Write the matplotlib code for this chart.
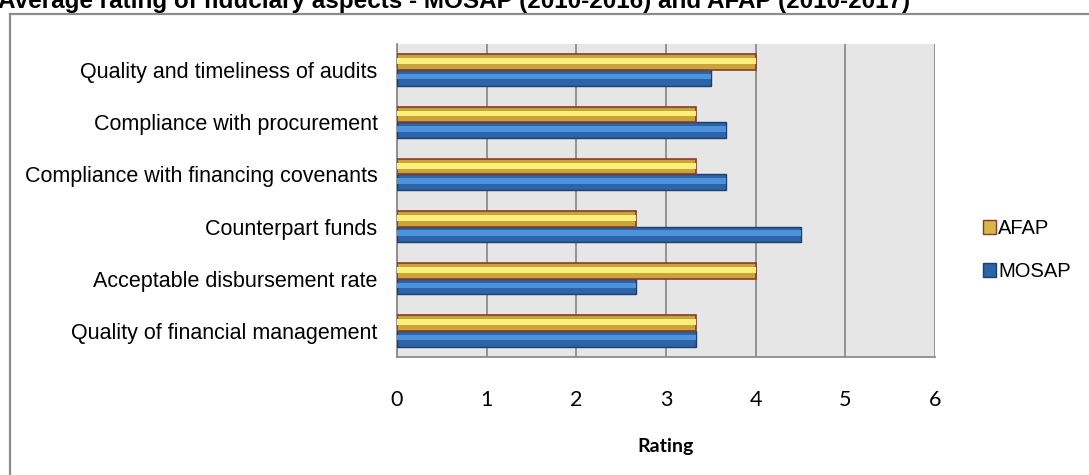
import numpy as np
import matplotlib
matplotlib.use("Agg")
import matplotlib.pyplot as plt
from matplotlib.patches import Patch
from matplotlib.lines import Line2D

# datos del grafico
categorias = ["Quality of financial management",
              "Acceptable disbursement rate",
              "Counterpart funds",
              "Compliance with financing covenants",
              "Compliance with procurement",
              "Quality and timeliness of audits"]
afap = [3.33, 4.0, 2.67, 3.33, 3.33, 4.0]
mosap = [3.33, 2.67, 4.5, 3.67, 3.67, 3.5]
ticks_x = [0, 1, 2, 3, 4, 5, 6]

fig = plt.figure(figsize=(10.89, 4.75), dpi=100)
fig.patch.set_facecolor("white")

# marco exterior (cortado a la derecha y abajo)
fig.add_artist(Line2D([10/1089, 10/1089], [0, 1 - 14/475], color="#8c8c8c", lw=1.6))
fig.add_artist(Line2D([10/1089, 1], [1 - 14/475, 1 - 14/475], color="#8c8c8c", lw=1.6))

# titulo cortado arriba, como en la imagen original
fig.text(-0.002, 1 - 8/475, "Average rating of fiduciary aspects - MOSAP (2010-2016) and AFAP (2010-2017)",
         family="Liberation Sans", weight="bold", fontsize=17.5, ha="left", va="baseline")

ax = fig.add_axes([397/1089, 1 - 357/475, (935-397)/1089, (357-44)/475])
ax.set_facecolor("#e6e6e6")

y = np.arange(len(categorias))
h = 0.3

# MOSAP (abajo) y AFAP (arriba), con efecto de bisel
ax.barh(y - h/2, mosap, height=h, color="#2d64a8", edgecolor="#1d3f6b", lw=1.0, zorder=3)
ax.barh(y - h/2 + h*0.08, mosap, height=h*0.35, color="#4d93dc", lw=0, zorder=4)
ax.barh(y + h/2, afap, height=h, color="#c9a43a", edgecolor="#8a3a2a", lw=1.2, zorder=3)
ax.barh(y + h/2 + h*0.06, afap, height=h*0.38, color="#fbef7c", lw=0, zorder=4)

ax.set_xlim(0, 6)
ax.set_ylim(-0.5, len(categorias) - 0.5)
ax.set_xticks(ticks_x)
ax.set_xticklabels([str(t) for t in ticks_x], family="Lato", fontsize=15.5)
ax.set_yticks(y)
ax.set_yticklabels(categorias, family="Liberation Sans", fontsize=15.5)
ax.tick_params(axis="x", length=0, pad=24)
ax.tick_params(axis="y", length=0, pad=14)
ax.xaxis.grid(True, color="#8c8c8c", lw=1.3, zorder=1)
ax.set_axisbelow(True)
for s in ["top", "right"]:
    ax.spines[s].set_visible(False)
ax.spines["left"].set_color("#8c8c8c")
ax.spines["bottom"].set_color("#8c8c8c")
ax.spines["left"].set_linewidth(1.3)
ax.spines["bottom"].set_linewidth(1.3)
ax.set_xlabel("Rating", family="Lato", weight="bold", fontsize=14, labelpad=20)

# leyenda
handles = [Patch(facecolor="#d9b64a", edgecolor="#8a3a2a", label="AFAP"),
           Patch(facecolor="#2d64a8", edgecolor="#1d3f6b", label="MOSAP")]
fig.legend(handles=handles, loc="center left", bbox_to_anchor=(965/1089, 1 - 250/475),
           frameon=False, prop={"family": "Liberation Sans", "size": 14.5},
           handlelength=0.65, handleheight=0.65, handletextpad=0.1, labelspacing=1.2)

fig.savefig("out.png", dpi=100)
